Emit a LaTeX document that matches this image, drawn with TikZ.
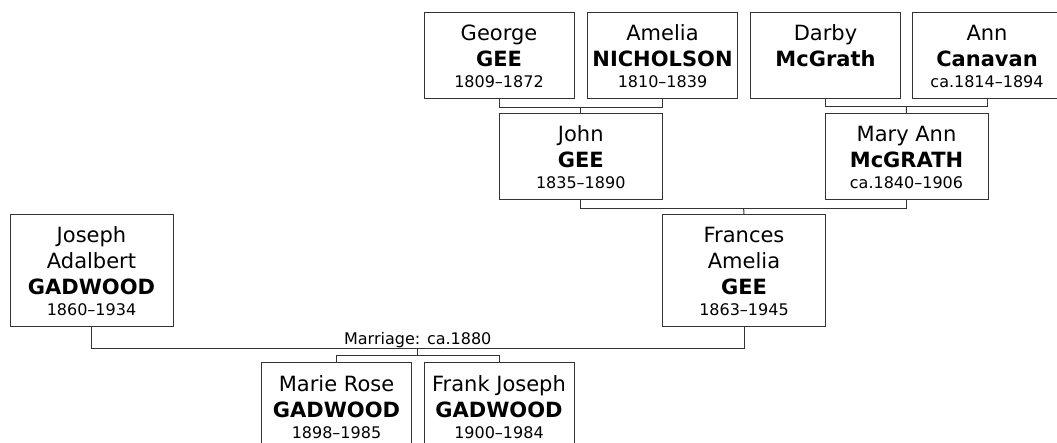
\documentclass[tikz,border=0pt]{standalone}
\usepackage{fontspec}
\setmainfont{DejaVu Sans}

\tikzset{
  person/.style={draw=black!80, line width=1pt, anchor=north, align=center,
    inner xsep=2pt, inner ysep=10.5pt, minimum width=150pt,
    font=\fontsize{21}{26}\selectfont},
  wide/.style={minimum width=163pt},
  link/.style={draw=black!80, line width=1pt},
}
\newcommand{\who}[3]{\rule{0pt}{18pt}#1\\\textbf{#2}\\[-5pt]{\fontsize{16}{21}\selectfont\rule{0pt}{12pt}#3}}

\begin{document}
\begin{tikzpicture}[x=1pt,y=-1pt]
  \useasboundingbox (0,0) rectangle (1057,443);
  % grandparents
  \node[person] (george) at (499,12) {\who{George}{GEE}{1809--1872}};
  \node[person] (amelia) at (662.5,12) {\who{Amelia}{NICHOLSON}{1810--1839}};
  \node[person] (darby) at (825.5,12) {\who{Darby}{McGrath}{}};
  \node[person] (ann) at (987,12) {\who{Ann}{Canavan}{ca.1814--1894}};
  % parents
  \node[person,wide] (john) at (580.75,113) {\who{John}{GEE}{1835--1890}};
  \node[person,wide] (maryann) at (906.5,113) {\who{Mary Ann}{McGRATH}{ca.1840--1906}};
  \node[person,wide] (frances) at (744,214) {\who{Frances\\Amelia}{GEE}{1863--1945}};
  \node[person,wide] (joseph) at (91.5,214) {\who{Joseph\\Adalbert}{GADWOOD}{1860--1934}};
  % children
  \node[person] (marie) at (336.5,362) {\who{Marie Rose}{GADWOOD}{1898--1985}};
  \node[person] (frank) at (499,362) {\who{Frank Joseph}{GADWOOD}{1900--1984}};

  \draw[link] (george.south) -- ++(0,8) -| coordinate[pos=0.25] (geebar) (amelia.south);
  \draw[link] (geebar) -- (john.north);
  \draw[link] (darby.south) -- ++(0,8) -| coordinate[pos=0.25] (mcgbar) (ann.south);
  \draw[link] (mcgbar) -- (maryann.north);
  \draw[link] (john.south) -- ++(0,8) -| coordinate[pos=0.25] (parbar) (maryann.south);
  \draw[link] (parbar) -- (frances.north);

  \draw[link] (joseph.south) -- ++(0,21) -|
    node[pos=0.25, above, inner sep=0pt, font=\fontsize{16}{20}\selectfont] (marriage) {Marriage: ca.1880}
    coordinate[pos=0.25] (wed) (frances.south);
  \draw[link] (wed) -- ++(0,7) coordinate (kids);
  \draw[link] (marie.north) |- (kids) -| (frank.north);
\end{tikzpicture}
\end{document}
